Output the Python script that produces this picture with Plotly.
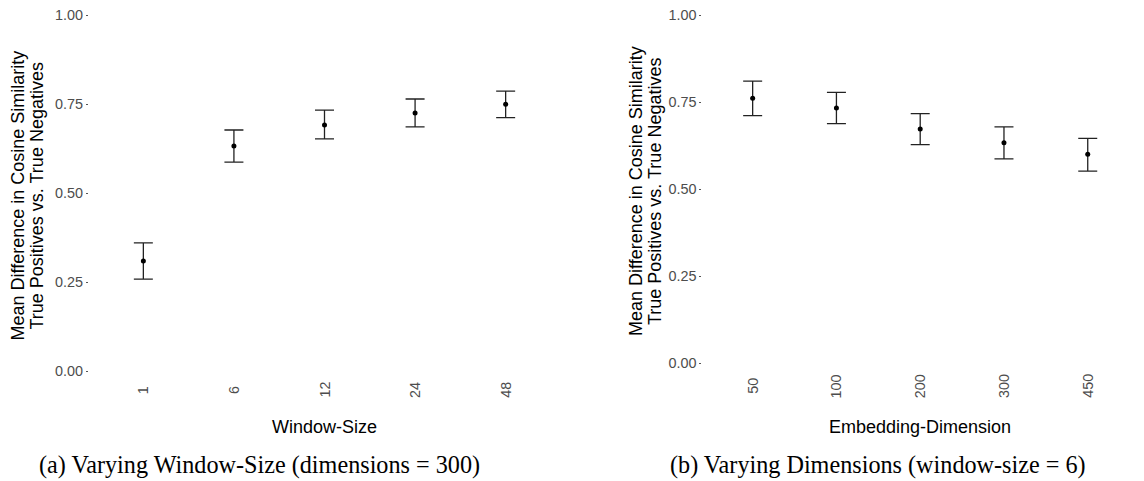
import plotly.graph_objects as go

# ---- data ----
window_sizes = ["1", "6", "12", "24", "48"]
window_mean = [0.309, 0.632, 0.691, 0.725, 0.749]
window_upper = [0.360, 0.677, 0.733, 0.764, 0.786]
window_lower = [0.258, 0.587, 0.652, 0.686, 0.712]

dims = ["50", "100", "200", "300", "450"]
dim_mean = [0.761, 0.733, 0.673, 0.633, 0.600]
dim_upper = [0.810, 0.778, 0.717, 0.679, 0.646]
dim_lower = [0.711, 0.688, 0.628, 0.587, 0.552]

y_ticks = [0.0, 0.25, 0.5, 0.75, 1.0]
y_ticktext = ["0.00", "0.25", "0.50", "0.75", "1.00"]

# The page body has an 8px default margin: the figure is drawn 8px in/down.
OFF = 8
W, H = 1144 - OFF, 481 - OFF
SANS = "Liberation Sans, Arial, sans-serif"
SERIF = "Liberation Serif, Times New Roman, serif"
TICKCOL = "#4d4d4d"


def px(v):   # reference x pixel -> paper fraction
    return (v - OFF) / W


def py(v):   # reference y pixel -> paper fraction
    return 1 - (v - OFF) / H


fig = go.Figure()


def add_panel(cats, mean, up, lo, xa, ya):
    fig.add_trace(go.Scatter(
        x=cats, y=mean, mode="markers", xaxis=xa, yaxis=ya,
        marker=dict(color="black", size=5),
        error_y=dict(type="data", symmetric=False,
                     array=[u - m for u, m in zip(up, mean)],
                     arrayminus=[m - l for m, l in zip(mean, lo)],
                     color="#222222", thickness=1.3, width=9.5),
        showlegend=False, hoverinfo="x+y"))


add_panel(window_sizes, window_mean, window_upper, window_lower, "x", "y")
add_panel(dims, dim_mean, dim_upper, dim_lower, "x2", "y2")

# reference pixel geometry
L_left, L_right, L_y1, L_y0 = 89, 560, 15, 371
R_left, R_right, R_y1, R_y0 = 702.4, 1138, 15, 363.3
TOP = OFF  # top of drawable area in reference pixels


def yrange(y1, y0):
    ppu = y0 - y1
    top = 1 + (y1 - TOP) / ppu
    bottom_px = y0 + 0.05 * ppu
    return [-0.05, top], bottom_px


L_rng, L_bottom = yrange(L_y1, L_y0)
R_rng, R_bottom = yrange(R_y1, R_y0)

yaxis_common = dict(
    tickvals=y_ticks, ticktext=y_ticktext, showgrid=False, zeroline=False,
    showline=False, ticks="outside", ticklen=2, tickwidth=1, tickcolor="#555555",
    tickfont=dict(family=SANS, size=14.4, color=TICKCOL),
    ticklabeloverflow="allow", fixedrange=True)
xaxis_common = dict(showgrid=False, zeroline=False, showline=False,
                    showticklabels=False, ticks="", range=[-0.6, 4.6],
                    type="category", fixedrange=True)

fig.update_layout(
    width=W, height=H,
    margin=dict(l=0, r=0, t=0, b=0),
    paper_bgcolor="white", plot_bgcolor="white",
    xaxis=dict(domain=[px(L_left), px(L_right)], anchor="y", **xaxis_common),
    yaxis=dict(domain=[py(L_bottom), 1], anchor="x", range=L_rng, **yaxis_common),
    xaxis2=dict(domain=[px(R_left), min(px(R_right), 1)], anchor="y2", **xaxis_common),
    yaxis2=dict(domain=[py(R_bottom), 1], anchor="x2", range=R_rng, **yaxis_common),
)

ann = []
# rotated x tick labels (centered like ggplot angle=90), placed at category index
for cats, xref, ycen in [(window_sizes, "x", 390), (dims, "x2", 386)]:
    for i, c in enumerate(cats):
        ann.append(dict(x=i, xref=xref, y=py(ycen), yref="paper",
                        text=c, textangle=-90, showarrow=False,
                        xanchor="center", yanchor="middle",
                        font=dict(family=SANS, size=14.4, color=TICKCOL)))

# axis titles
ann.append(dict(x=px((L_left + L_right) / 2), y=py(427), xref="paper", yref="paper",
                text="Window-Size", showarrow=False, xanchor="center", yanchor="middle",
                font=dict(family=SANS, size=18, color="black")))
ann.append(dict(x=px((R_left + R_right) / 2), y=py(427), xref="paper", yref="paper",
                text="Embedding-Dimension", showarrow=False, xanchor="center", yanchor="middle",
                font=dict(family=SANS, size=18, color="black")))

ytitle_lines = ["Mean Difference in Cosine Similarity", "True Positives vs. True Negatives"]
for xcs, ycen in [((17.5, 36.5), 196), ((635.5, 654.5), 191.5)]:
    for xc, line in zip(xcs, ytitle_lines):
        ann.append(dict(x=px(xc), y=py(ycen), xref="paper", yref="paper",
                        text=line, textangle=-90, showarrow=False,
                        xanchor="center", yanchor="middle",
                        font=dict(family=SANS, size=18, color="black")))

# captions
ann.append(dict(x=px(259), y=py(465), xref="paper", yref="paper",
                text="(a) Varying Window-Size (dimensions = 300)", showarrow=False,
                xanchor="center", yanchor="middle",
                font=dict(family=SERIF, size=24.2, color="black")))
ann.append(dict(x=px(878), y=py(465), xref="paper", yref="paper",
                text="(b) Varying Dimensions (window-size = 6)", showarrow=False,
                xanchor="center", yanchor="middle",
                font=dict(family=SERIF, size=24.2, color="black")))

fig.update_layout(annotations=ann)
fig.write_html("out.html")
